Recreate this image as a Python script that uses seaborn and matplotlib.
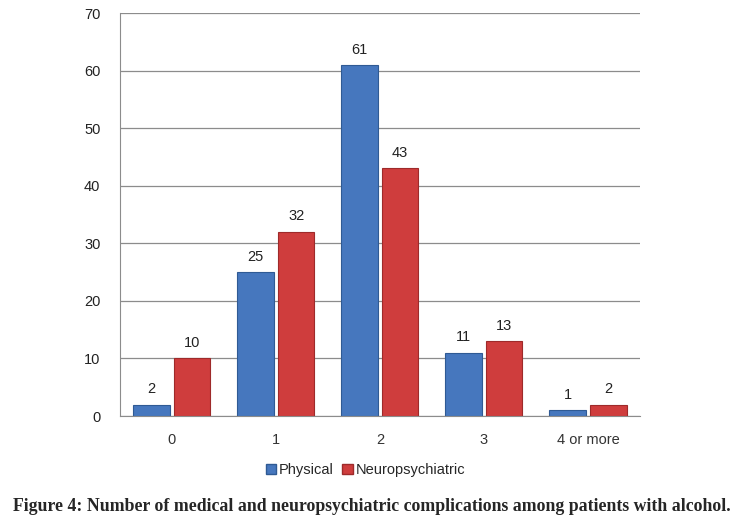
import pandas as pd
import matplotlib.pyplot as plt
import seaborn as sns

categories = ["0", "1", "2", "3", "4 or more"]
physical = [2, 25, 61, 11, 1]
neuropsychiatric = [10, 32, 43, 13, 2]
series = ["Physical", "Neuropsychiatric"]
colors = ["#4677be", "#cf3d3d"]
edges = ["#2f5a94", "#9e2a2a"]

df = pd.DataFrame({
    "complications": categories * 2,
    "count": physical + neuropsychiatric,
    "type": [series[0]] * len(categories) + [series[1]] * len(categories),
})

sns.set_style("white")
plt.rcParams["font.family"] = ["Liberation Sans", "DejaVu Sans"]

fig = plt.figure(figsize=(7.31, 5.21), dpi=100)
ax = fig.add_axes([0.164, 0.2015, 0.7115, 0.7735])

sns.barplot(data=df, x="complications", y="count", hue="type",
            palette=colors, saturation=1, width=0.78, gap=0.1, ax=ax, legend=False)

for i, container in enumerate(ax.containers):
    for bar in container:
        bar.set_edgecolor(edges[i])
        bar.set_linewidth(0.8)
    ax.bar_label(container, padding=6, fontsize=10.5, color="#222222")

ax.set_ylim(0, 70)
ax.set_yticks(range(0, 71, 10))
ax.yaxis.grid(True, color="#8c8c8c", linewidth=0.9)
ax.set_axisbelow(True)
ax.set_xlabel("")
ax.set_ylabel("")
for s in ["top", "right"]:
    ax.spines[s].set_visible(False)
for s in ["left", "bottom"]:
    ax.spines[s].set_color("#8c8c8c")
ax.tick_params(axis="y", labelsize=10.5, colors="#222222", pad=14, length=0)
ax.tick_params(axis="x", labelsize=10.5, colors="#333333", pad=12, length=0)

handles = [plt.Rectangle((0, 0), 1, 1, facecolor=c, edgecolor=e) for c, e in zip(colors, edges)]
fig.legend(handles, series, loc="center", bbox_to_anchor=(0.5, 0.097), ncol=2,
           frameon=False, fontsize=10.5, handlelength=0.7, handleheight=0.7,
           handletextpad=0.2, columnspacing=0.6)

fig.text(0.508, 0.027, "Figure 4: Number of medical and neuropsychiatric complications among patients with alcohol.",
         ha="center", va="center", fontsize=12.8, fontweight="bold",
         family=["Liberation Serif", "DejaVu Serif"])

fig.savefig("out.png", dpi=100)
